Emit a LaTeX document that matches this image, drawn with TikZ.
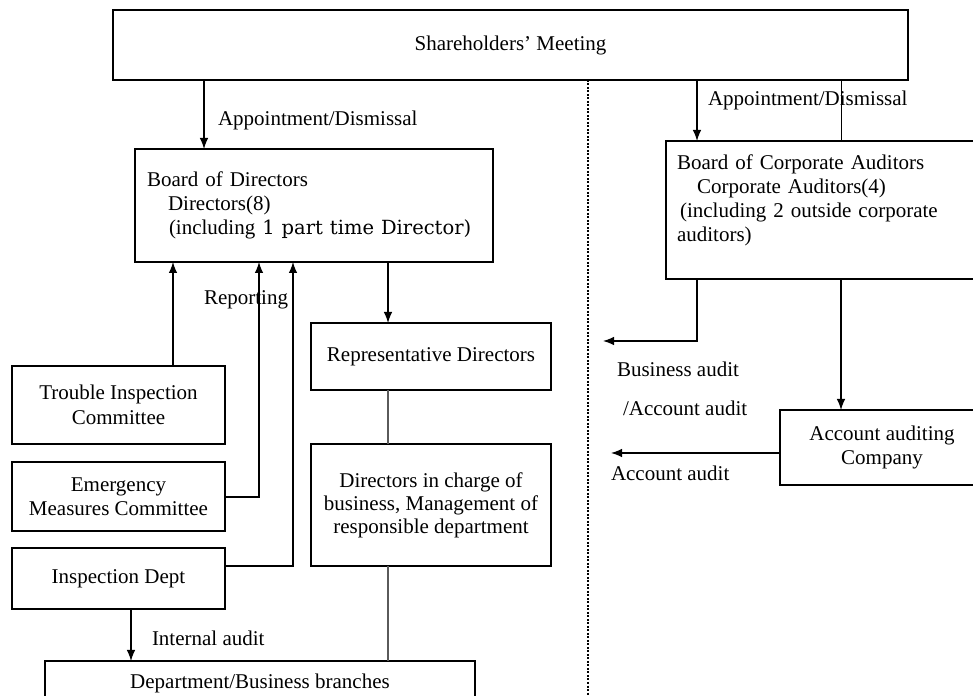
\documentclass[tikz,border=0pt]{standalone}
\usepackage{fontspec}
\setmainfont{Liberation Serif}
\newfontfamily\minchofont{DejaVu Serif}
\usetikzlibrary{arrows.meta}

\begin{document}
\begin{tikzpicture}[x=1pt,y=1pt,
  font=\fontsize{21}{24}\selectfont,
  box/.style={draw=drawColor,line width=1.2pt,inner sep=0pt,outer sep=0pt,align=center},
  arr/.style={draw=drawColor,line width=1.2pt,-{Latex[length=11pt,width=8.5pt]}},
  ln/.style={draw=lineColor,line width=1.2pt},
  lbl/.style={text=drawColor,anchor=west,inner sep=0pt,outer sep=0pt}]
\definecolor{fillColor}{RGB}{255,255,255}
\definecolor{drawColor}{RGB}{0,0,0}
\definecolor{lineColor}{RGB}{90,90,90}
\path[use as bounding box,fill=fillColor] (0,0) rectangle (973,695);
\begin{scope}
\path[clip] (0,0) rectangle (973,695);

\node[box,minimum width=795pt,minimum height=70pt] (share) at (510.5,650) {Shareholders' Meeting};

\node[box,minimum width=358pt,minimum height=113pt,text width=334pt,align=left] (bod) at (314,489.5) {Board of Directors\\\hspace*{21pt}Directors(8)\\\hspace*{22pt}(including {\minchofont\fontsize{19.5}{24}\selectfont 1 part time Director)}};

\node[box,minimum width=318pt,minimum height=138pt,text width=296pt,align=left] (aud) at (825,485) {Board of Corporate Auditors\\\hspace*{20pt}Corporate Auditors(4)\\\hspace*{3pt}\makebox[288pt][s]{(including 2 outside corporate}\\auditors)\\\mbox{}};

\node[box,minimum width=240pt,minimum height=67pt] (rep) at (431,338.5) {Representative Directors};

\node[box,minimum width=240pt,minimum height=122pt,font=\fontsize{21}{23}\selectfont] (dic) at (431,190) {Directors in charge of\\business, Management of\\responsible department};

\node[box,minimum width=213pt,minimum height=78pt,font=\fontsize{21}{25}\selectfont] (trouble) at (118.5,290) {Trouble Inspection\\Committee};

\node[box,minimum width=213pt,minimum height=69pt] (emerg) at (118.5,198.5) {Emergency\\Measures Committee};

\node[box,minimum width=213pt,minimum height=61pt] (insp) at (118.5,116.5) {Inspection Dept};

\node[box,minimum width=430pt,minimum height=44pt] (dept) at (260,12) {Department/Business branches};

\node[box,minimum width=204pt,minimum height=75pt] (acc) at (882,247.5) {Account auditing\\Company};

\coordinate (xa) at (204,0);
\coordinate (xb) at (697,0);
\coordinate (xc) at (841,0);
\coordinate (xd) at (173,0);
\coordinate (xe) at (259,198);
\coordinate (xf) at (293,129);
\coordinate (xg) at (388,0);
\coordinate (xh) at (131,0);
\coordinate (ba) at (603,354);
\coordinate (aa) at (611,242);
\coordinate (dotend) at (588,0);

\path[draw=drawColor,line width=2pt,dash pattern=on 2pt off 1.5pt] (share.south -| dotend) -- (dotend);

\draw[arr] (share.south -| xa) -- (bod.north -| xa);
\draw[arr] (share.south -| xb) -- (aud.north -| xb);
\draw[draw=drawColor,line width=0.9pt] (share.south -| xc) -- (aud.north -| xc);

\draw[arr] (trouble.north -| xd) -- (bod.south -| xd);
\draw[arr] (emerg.east |- xe) -| (bod.south -| xe);
\draw[arr] (insp.east |- xf) -| (bod.south -| xf);

\draw[arr] (bod.south -| xg) -- (rep.north -| xg);
\draw[ln] (rep.south -| xg) -- (dic.north -| xg);
\draw[ln] (dic.south -| xg) -- (dept.north -| xg);
\draw[arr] (insp.south -| xh) -- (dept.north -| xh);

\draw[arr] (aud.south -| xb) |- (ba);
\draw[arr] (aud.south -| xc) -- (acc.north -| xc);
\draw[arr] (acc.west |- aa) -- (aa);

\node[lbl] (lapp) at (218,575) {Appointment/Dismissal};
\node[lbl] (rapp) at (708,595) {Appointment/Dismissal};
\node[lbl] (lrep) at (204,395) {Reporting};
\node[lbl] (lint) at (152,57) {Internal audit};
\node[lbl] (lbus) at (617,326) {Business audit};
\node[lbl] (lbac) at (623,287) {/Account audit};
\node[lbl] (lacc) at (611,222) {Account audit};
\end{scope}
\end{tikzpicture}
\end{document}
